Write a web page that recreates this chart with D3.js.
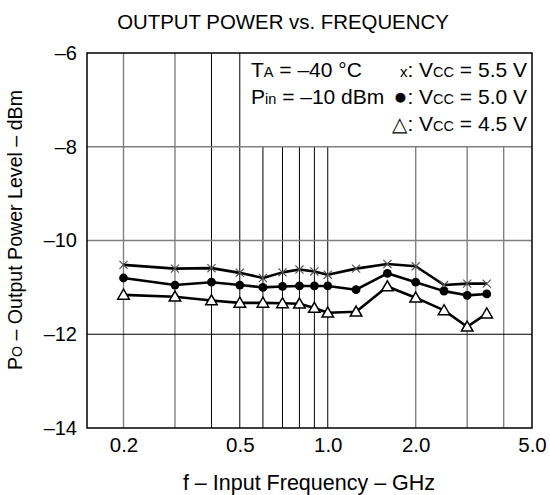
<!DOCTYPE html>
<html>
<head>
<meta charset="utf-8">
<script src="https://cdn.jsdelivr.net/npm/d3@7"></script>
<style>
  body { margin: 0; background: #fff; }
  svg text { font-family: "Liberation Sans", Arial, sans-serif; fill: #000; }
</style>
</head>
<body>
<svg id="chart" width="550" height="495"></svg>
<script>
// values
var freqs = [0.2, 0.3, 0.4, 0.5, 0.6, 0.7, 0.8, 0.9, 1.0, 1.25, 1.6, 2.0, 2.5, 3.0, 3.5]
var vcc55 = [-10.52, -10.60, -10.59, -10.69, -10.80, -10.68, -10.62, -10.66, -10.73, -10.60, -10.50, -10.55, -10.95, -10.92, -10.92]
var vcc50 = [-10.80, -10.95, -10.89, -10.95, -11.00, -10.98, -10.97, -10.97, -10.97, -11.05, -10.70, -10.89, -11.08, -11.17, -11.14]
var vcc45 = [-11.16, -11.20, -11.28, -11.33, -11.33, -11.34, -11.35, -11.44, -11.54, -11.52, -10.98, -11.22, -11.49, -11.84, -11.56]

var xTicks = [0.2, 0.5, 1.0, 2.0, 5.0]
var yTicks = [-6, -8, -10, -12, -14]
var xGrid = [0.2, 0.3, 0.4, 0.5, 0.6, 0.7, 0.8, 0.9, 1, 2, 3, 4]
var xGridGray = [0.2, 0.3, 2, 3, 4]
var yGrid = [-8, -10, -12]

var dimensions = {
    width: 550,
    height: 495,
    margin: { top: 53, bottom: 67, left: 87, right: 18 }
}

var svg = d3.select("#chart")

var xScale = d3.scaleLog()
               .domain([0.15, 5])
               .range([dimensions.margin.left, dimensions.width - dimensions.margin.right])

var yScale = d3.scaleLinear()
               .domain([-14, -6])
               .range([dimensions.height - dimensions.margin.bottom, dimensions.margin.top])

var plotTop = yScale(-6), plotBottom = yScale(-14)
var plotLeft = xScale(0.15), plotRight = xScale(5)

// grid (legend area above -8 is kept clear right of 0.5)
svg.append("g")
   .selectAll("line")
   .data(xGrid)
   .enter()
   .append("line")
   .attr("x1", d => xScale(d))
   .attr("x2", d => xScale(d))
   .attr("y1", d => d <= 0.5 ? plotTop : yScale(-8))
   .attr("y2", plotBottom)
   .attr("stroke", d => xGridGray.indexOf(d) >= 0 ? "#808080" : "#000")
   .attr("stroke-width", d => xGridGray.indexOf(d) >= 0 ? 1.4 : 1)

svg.append("g")
   .selectAll("line")
   .data(yGrid)
   .enter()
   .append("line")
   .attr("x1", plotLeft)
   .attr("x2", plotRight)
   .attr("y1", d => yScale(d))
   .attr("y2", d => yScale(d))
   .attr("stroke", d => d == -12 ? "#000" : "#808080")
   .attr("stroke-width", d => d == -12 ? 1 : 1.4)

svg.append("rect")
   .attr("x", plotLeft)
   .attr("y", plotTop)
   .attr("width", plotRight - plotLeft)
   .attr("height", plotBottom - plotTop)
   .attr("fill", "none")
   .attr("stroke", "#000")
   .attr("stroke-width", 1.5)

// axes
var xAxisGen = d3.axisBottom(xScale).tickValues(xTicks).tickSize(0).tickPadding(9)
                 .tickFormat(d3.format(".1f"))
var xAxis = svg.append("g")
               .attr("transform", `translate(0,${plotBottom})`)
               .call(xAxisGen)
xAxis.select(".domain").remove()
xAxis.selectAll("text").style("font-size", "20.5px").attr("font-family", null)

var yAxisGen = d3.axisLeft(yScale).tickValues(yTicks).tickSize(0).tickPadding(10)
                 .tickFormat(d => "\u2013" + Math.abs(d))
var yAxis = svg.append("g")
               .attr("transform", `translate(${plotLeft},0)`)
               .call(yAxisGen)
yAxis.select(".domain").remove()
yAxis.selectAll("text").style("font-size", "20px").attr("font-family", null)

// series
var series = [vcc55, vcc50, vcc45]

var lineGen = d3.line()
                .x((d, i) => xScale(freqs[i]))
                .y(d => yScale(d))

svg.append("g")
   .selectAll("path")
   .data(series)
   .enter()
   .append("path")
   .attr("d", d => lineGen(d))
   .attr("fill", "none")
   .attr("stroke", "#000")
   .attr("stroke-width", 2.6)
   .attr("stroke-linejoin", "round")

var xSym = d3.symbol().type(d3.symbolX).size(45)
var triSym = d3.symbol().type(d3.symbolTriangle).size(58)

svg.append("g")
   .selectAll("path")
   .data(vcc55)
   .enter()
   .append("path")
   .attr("transform", (d, i) => `translate(${xScale(freqs[i])},${yScale(d)})`)
   .attr("d", xSym)
   .attr("fill", "none")
   .attr("stroke", "#555")
   .attr("stroke-width", 1.2)

svg.append("g")
   .selectAll("circle")
   .data(vcc50)
   .enter()
   .append("circle")
   .attr("cx", (d, i) => xScale(freqs[i]))
   .attr("cy", d => yScale(d))
   .attr("r", 4.4)
   .attr("fill", "#000")

svg.append("g")
   .selectAll("path")
   .data(vcc45)
   .enter()
   .append("path")
   .attr("transform", (d, i) => `translate(${xScale(freqs[i])},${yScale(d) + 1})`)
   .attr("d", triSym)
   .attr("fill", "#fff")
   .attr("stroke", "#000")
   .attr("stroke-width", 1.5)

// titles
svg.append("text")
   .attr("x", 283)
   .attr("y", 29)
   .attr("text-anchor", "middle")
   .style("font-size", "20.4px")
   .text("OUTPUT POWER vs. FREQUENCY")

svg.append("text")
   .attr("x", 309)
   .attr("y", 490)
   .attr("text-anchor", "middle")
   .style("font-size", "21.5px")
   .text("f \u2013 Input Frequency \u2013 GHz")

var yLabel = svg.append("text")
   .attr("transform", "translate(22,230) rotate(-90)")
   .attr("text-anchor", "middle")
   .style("font-size", "19.6px")
yLabel.append("tspan").text("P")
yLabel.append("tspan").style("font-size", "14px").text("O")
yLabel.append("tspan").text(" \u2013 Output Power Level \u2013 dBm")

// legend / conditions
var legend = svg.append("g").style("font-size", "21px")

var t1 = legend.append("text").attr("x", 251).attr("y", 77)
t1.append("tspan").text("T")
t1.append("tspan").style("font-size", "14.5px").text("A")
t1.append("tspan").text(" = \u201340 \u00B0C")

var t2 = legend.append("text").attr("x", 251).attr("y", 104)
t2.append("tspan").text("P")
t2.append("tspan").style("font-size", "14.5px").text("in")
t2.append("tspan").text(" = \u201310 dBm")

var legendRows = [
    { sym: "x", size: "15px", v: "5.5", y: 77 },
    { sym: "\u25CF", size: "23px", v: "5.0", y: 104 },
    { sym: "\u25B3", size: "20px", v: "4.5", y: 131 }
]

legendRows.forEach(function(r) {
    var t = legend.append("text").attr("x", 527).attr("y", r.y).attr("text-anchor", "end")
    t.append("tspan").style("font-size", r.size).text(r.sym)
    t.append("tspan").text(": V")
    t.append("tspan").style("font-size", "14.5px").text("CC")
    t.append("tspan").text(" = " + r.v + " V")
})
</script>
</body>
</html>
